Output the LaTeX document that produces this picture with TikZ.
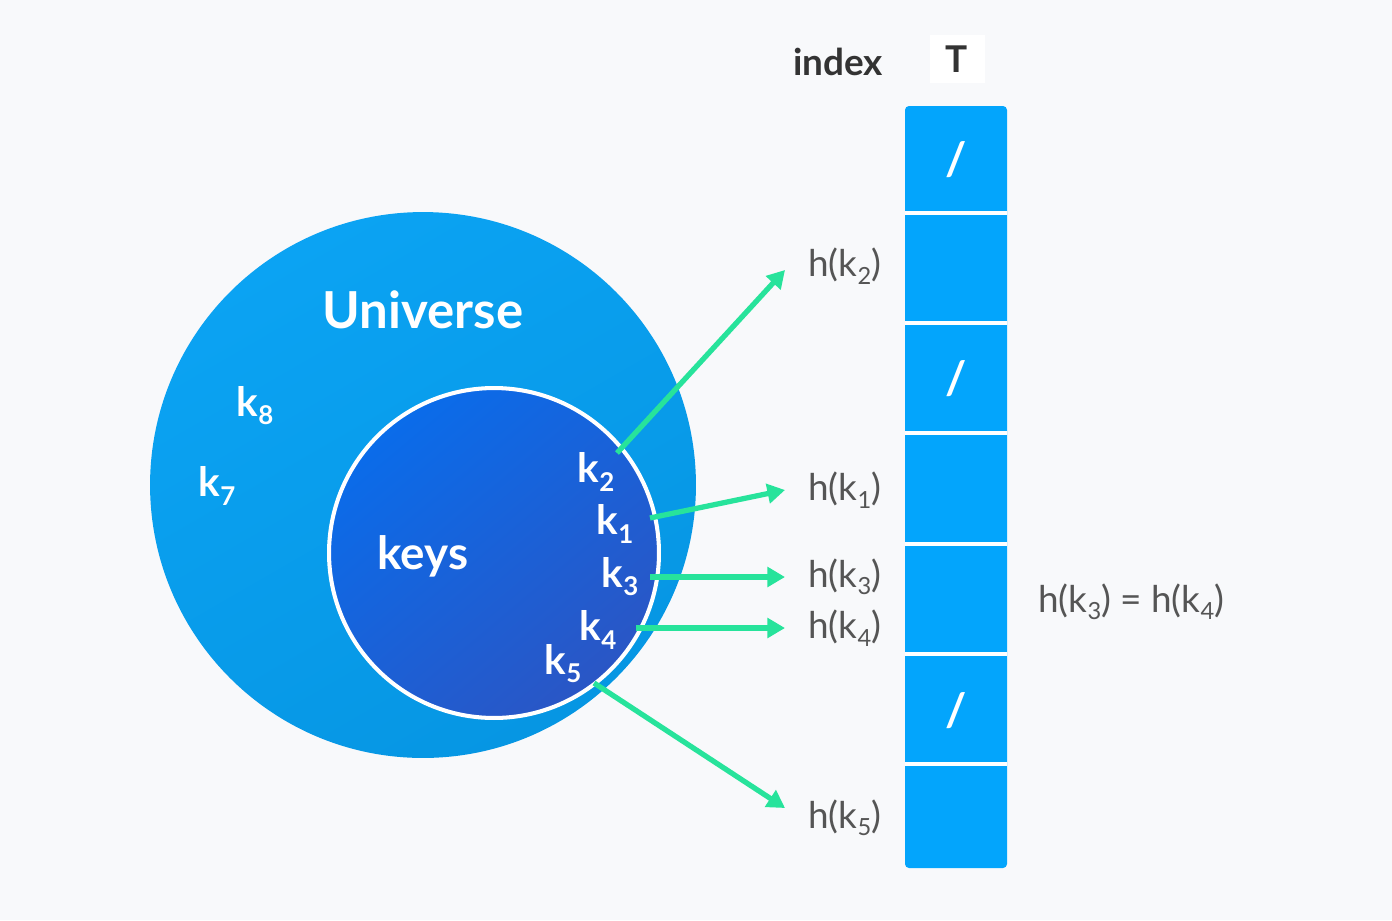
\documentclass[tikz,border=0pt]{standalone}
\usepackage{fontspec}
\setmainfont{Lato}
\usetikzlibrary{arrows.meta,positioning}
\definecolor{pagebg}{HTML}{F8F9FB}
\definecolor{unilight}{HTML}{0BA3F3}
\definecolor{unidark}{HTML}{0696E3}
\definecolor{keylight}{HTML}{0A6CEA}
\definecolor{keydark}{HTML}{2A56C5}
\definecolor{tablecol}{HTML}{03A5FC}
\definecolor{mapcol}{HTML}{27E39B}
\definecolor{labelcol}{HTML}{555555}
\definecolor{headcol}{HTML}{333333}
\newcommand\ksub[1]{\raisebox{-0.2em}{\scalebox{0.64}{#1}}}
\tikzset{
  keylabel/.style={text=white, font=\fontsize{23}{23}\selectfont\bfseries, inner sep=0pt},
  hashlabel/.style={text=labelcol, font=\fontsize{21}{21}\selectfont, inner sep=0pt, anchor=west},
  maparrow/.style={draw=mapcol, line width=3pt, -{Triangle[length=10pt,width=11pt]}},
  nilmark/.style={text=white, font=\fontsize{26}{26}\selectfont\bfseries},
}
\begin{document}
\begin{tikzpicture}[x=0.02cm,y=-0.02cm]
            \fill[pagebg] (0,0) rectangle (1392,920);
            \useasboundingbox (0,0) rectangle (1392,920);

            \node[circle, minimum size=10.92cm, top color=unilight, bottom color=unidark, shading angle=30] (universe) at (423,485) {};
            \node[circle, minimum size=6.6cm, draw=white, line width=2.3pt, top color=keylight, bottom color=keydark, shading angle=40] (keys) at (494,553) {};

            \node[text=white, font=\fontsize{29}{29}\selectfont\bfseries] (unilabel) at (423,310) {Universe};
            \node[text=white, font=\fontsize{26}{26}\selectfont\bfseries] (keyslabel) at (423,556) {keys};

            \node[keylabel] (k8) at (255,406) {k\ksub{8}};
            \node[keylabel] (k7) at (217,486) {k\ksub{7}};
            \node[keylabel] (k2) at (596,472) {k\ksub{2}};
            \node[keylabel] (k1) at (615,524) {k\ksub{1}};
            \node[keylabel] (k3) at (620,577) {k\ksub{3}};
            \node[keylabel] (k4) at (598,630) {k\ksub{4}};
            \node[keylabel] (k5) at (563,664) {k\ksub{5}};

            \node[text=headcol, font=\fontsize{21}{21}\selectfont\bfseries] (index) at (838,62) {index};
            \node[fill=white, text=headcol, minimum width=1.1cm, minimum height=0.96cm, font=\fontsize{21}{21}\selectfont\bfseries] (T) at (957,59) {T};

            \fill[tablecol, rounded corners=0.08cm] (905,106) rectangle (1007,868);
            \foreach \i in {0,...,5}
                \draw[white, line width=2.3pt] (905,213+110.2*\i) -- (1007,213+110.2*\i);
            \node[nilmark] (nil1) at (956,160) {/};
            \node[nilmark] (nil3) at (956,379) {/};
            \node[nilmark] (nil5) at (956,711) {/};

            \node[hashlabel] (hk2) at (808,266) {h(k\ksub{2})};
            \node[hashlabel] (hk1) at (808,490) {h(k\ksub{1})};
            \node[hashlabel] (hk3) at (808,577) {h(k\ksub{3})};
            \node[hashlabel] (hk4) at (808,628) {h(k\ksub{4})};
            \node[hashlabel] (hk5) at (808,818) {h(k\ksub{5})};
            \node[hashlabel] (collide) at (1038,602) {h(k\ksub{3}) = h(k\ksub{4})};

            \coordinate (k2s) at (617,453);
            \coordinate (k1s) at (650,518);
            \coordinate (k3s) at (650,577);
            \coordinate (k4s) at (636,628);
            \coordinate (k5s) at (594,683);
            \draw[maparrow] (k2s) -- ([xshift=-0.46cm,yshift=-0.08cm]hk2.west);
            \draw[maparrow] (k1s) -- ([xshift=-0.46cm]hk1.west);
            \draw[maparrow] (k3s) -- ([xshift=-0.46cm]hk3.west);
            \draw[maparrow] (k4s) -- ([xshift=-0.46cm]hk4.west);
            \draw[maparrow] (k5s) -- ([xshift=-0.46cm,yshift=0.2cm]hk5.west);
\end{tikzpicture}
\end{document}
